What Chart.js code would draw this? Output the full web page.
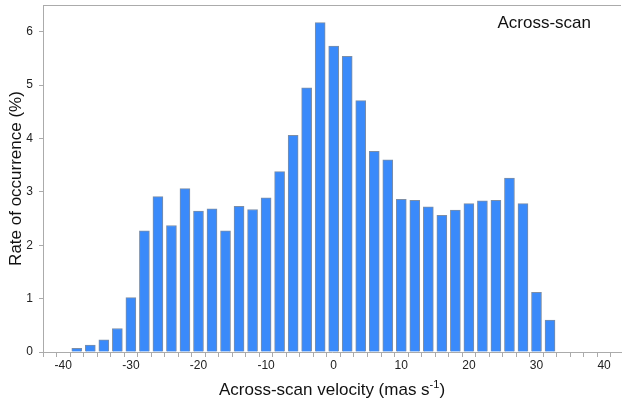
<!DOCTYPE html>
<html>
<head>
<meta charset="utf-8">
<script src="https://cdn.jsdelivr.net/npm/chart.js@4.4.1/dist/chart.umd.min.js"></script>
<style>
  html, body { margin: 0; padding: 0; background: #fff; }
  #wrap { width: 622px; height: 400px; }
</style>
</head>
<body>
<div id="wrap"><canvas id="chart"></canvas></div>
<script>
// bin centres (mas/s) and rate of occurrence (%)
const velocities = [-38, -36, -34, -32, -30, -28, -26, -24, -22, -20, -18, -16,
  -14, -12, -10, -8, -6, -4, -2, 0, 2, 4, 6, 8, 10, 12, 14, 16, 18, 20, 22, 24,
  26, 28, 30, 32];
const rates = [0.07, 0.13, 0.23, 0.44, 1.02, 2.27, 2.91, 2.37, 3.06, 2.64, 2.68, 2.27,
  2.73, 2.67, 2.89, 3.38, 4.06, 4.95, 6.17, 5.73, 5.54, 4.71, 3.76, 3.60, 2.86, 2.84,
  2.72, 2.56, 2.66, 2.78, 2.83, 2.84, 3.26, 2.78, 1.12, 0.60];

const xTicks = [-42, -40, -38, -36, -34, -32, -30, -28, -26, -24, -22, -20, -18, -16,
  -14, -12, -10, -8, -6, -4, -2, 0, 2, 4, 6, 8, 10, 12, 14, 16, 18, 20, 22, 24, 26,
  28, 30, 32, 34, 36, 38, 40, 42];
const xLabels = [-40, -30, -20, -10, 0, 10, 20, 30, 40];
const yTicks = [0, 1, 2, 3, 4, 5, 6];

const panelLabel = 'Across-scan';
const xTitle = 'Across-scan velocity (mas s';
const xTitleSup = '-1';
const xTitleEnd = ')';
const yTitle = 'Rate of occurrence (%)';

const FONT = '"Liberation Sans", Arial, sans-serif';
const AXIS_GREY = '#ababab';

const frameAndTitles = {
  id: 'frameAndTitles',
  afterDraw(chart) {
    const { ctx, chartArea: a } = chart;
    ctx.save();

    // top frame line
    ctx.strokeStyle = AXIS_GREY;
    ctx.lineWidth = 1;
    ctx.beginPath();
    ctx.moveTo(a.left, a.top + 0.5);
    ctx.lineTo(a.right, a.top + 0.5);
    ctx.stroke();

    ctx.fillStyle = '#111';

    // panel label
    ctx.font = '17px ' + FONT;
    ctx.textAlign = 'right';
    ctx.textBaseline = 'alphabetic';
    ctx.fillText(panelLabel, a.right - 30, a.top + 23);

    // x title with superscript
    const mainFont = '17px ' + FONT;
    const supFont = '11px ' + FONT;
    ctx.font = mainFont;
    const w1 = ctx.measureText(xTitle).width;
    const w3 = ctx.measureText(xTitleEnd).width;
    ctx.font = supFont;
    const w2 = ctx.measureText(xTitleSup).width;
    let x = (a.left + a.right) / 2 - (w1 + w2 + w3) / 2;
    const base = 395;
    ctx.textAlign = 'left';
    ctx.font = mainFont;
    ctx.fillText(xTitle, x, base);
    x += w1;
    ctx.font = supFont;
    ctx.fillText(xTitleSup, x, base - 7);
    x += w2;
    ctx.font = mainFont;
    ctx.fillText(xTitleEnd, x, base);

    // y title
    ctx.translate(16, (a.top + a.bottom) / 2);
    ctx.rotate(-Math.PI / 2);
    ctx.textAlign = 'center';
    ctx.textBaseline = 'middle';
    ctx.font = '17px ' + FONT;
    ctx.fillText(yTitle, 0, 0);

    ctx.restore();
  }
};

new Chart(document.getElementById('chart'), {
  type: 'bar',
  data: {
    datasets: [{
      data: velocities.map((v, i) => ({ x: v, y: rates[i] })),
      backgroundColor: '#3a8afa',
      borderColor: '#7d8ea6',
      borderWidth: 1,
      borderSkipped: 'bottom',
      barThickness: 10
    }]
  },
  options: {
    responsive: true,
    maintainAspectRatio: false,
    animation: false,
    layout: { padding: { top: 5, right: 1, left: 0, bottom: 0 } },
    plugins: {
      legend: { display: false },
      tooltip: { enabled: false }
    },
    scales: {
      x: {
        type: 'linear',
        min: -43,
        max: 42.5,
        offset: false,
        afterBuildTicks: (scale) => { scale.ticks = xTicks.map(v => ({ value: v })); },
        afterFit: (scale) => {
          scale.height = 48;
          scale.paddingLeft = 0;
          scale.paddingRight = 0;
        },
        grid: { drawOnChartArea: false, drawTicks: true, tickLength: 5, color: AXIS_GREY },
        border: { display: true, color: AXIS_GREY },
        ticks: {
          autoSkip: false,
          maxRotation: 0,
          padding: 1,
          color: '#222',
          font: { family: FONT, size: 12 },
          callback: (val) => xLabels.includes(val) ? String(val) : ''
        }
      },
      y: {
        min: 0,
        max: 6.5,
        afterBuildTicks: (scale) => { scale.ticks = yTicks.map(v => ({ value: v })); },
        afterFit: (scale) => {
          scale.width = 43;
          scale.paddingTop = 0;
          scale.paddingBottom = 0;
        },
        grid: { drawOnChartArea: false, drawTicks: true, tickLength: 4, color: AXIS_GREY },
        border: { display: true, color: AXIS_GREY },
        ticks: {
          padding: 6,
          color: '#222',
          font: { family: FONT, size: 12 },
          callback: (val) => String(val)
        }
      }
    }
  },
  plugins: [frameAndTitles]
});
</script>
</body>
</html>
